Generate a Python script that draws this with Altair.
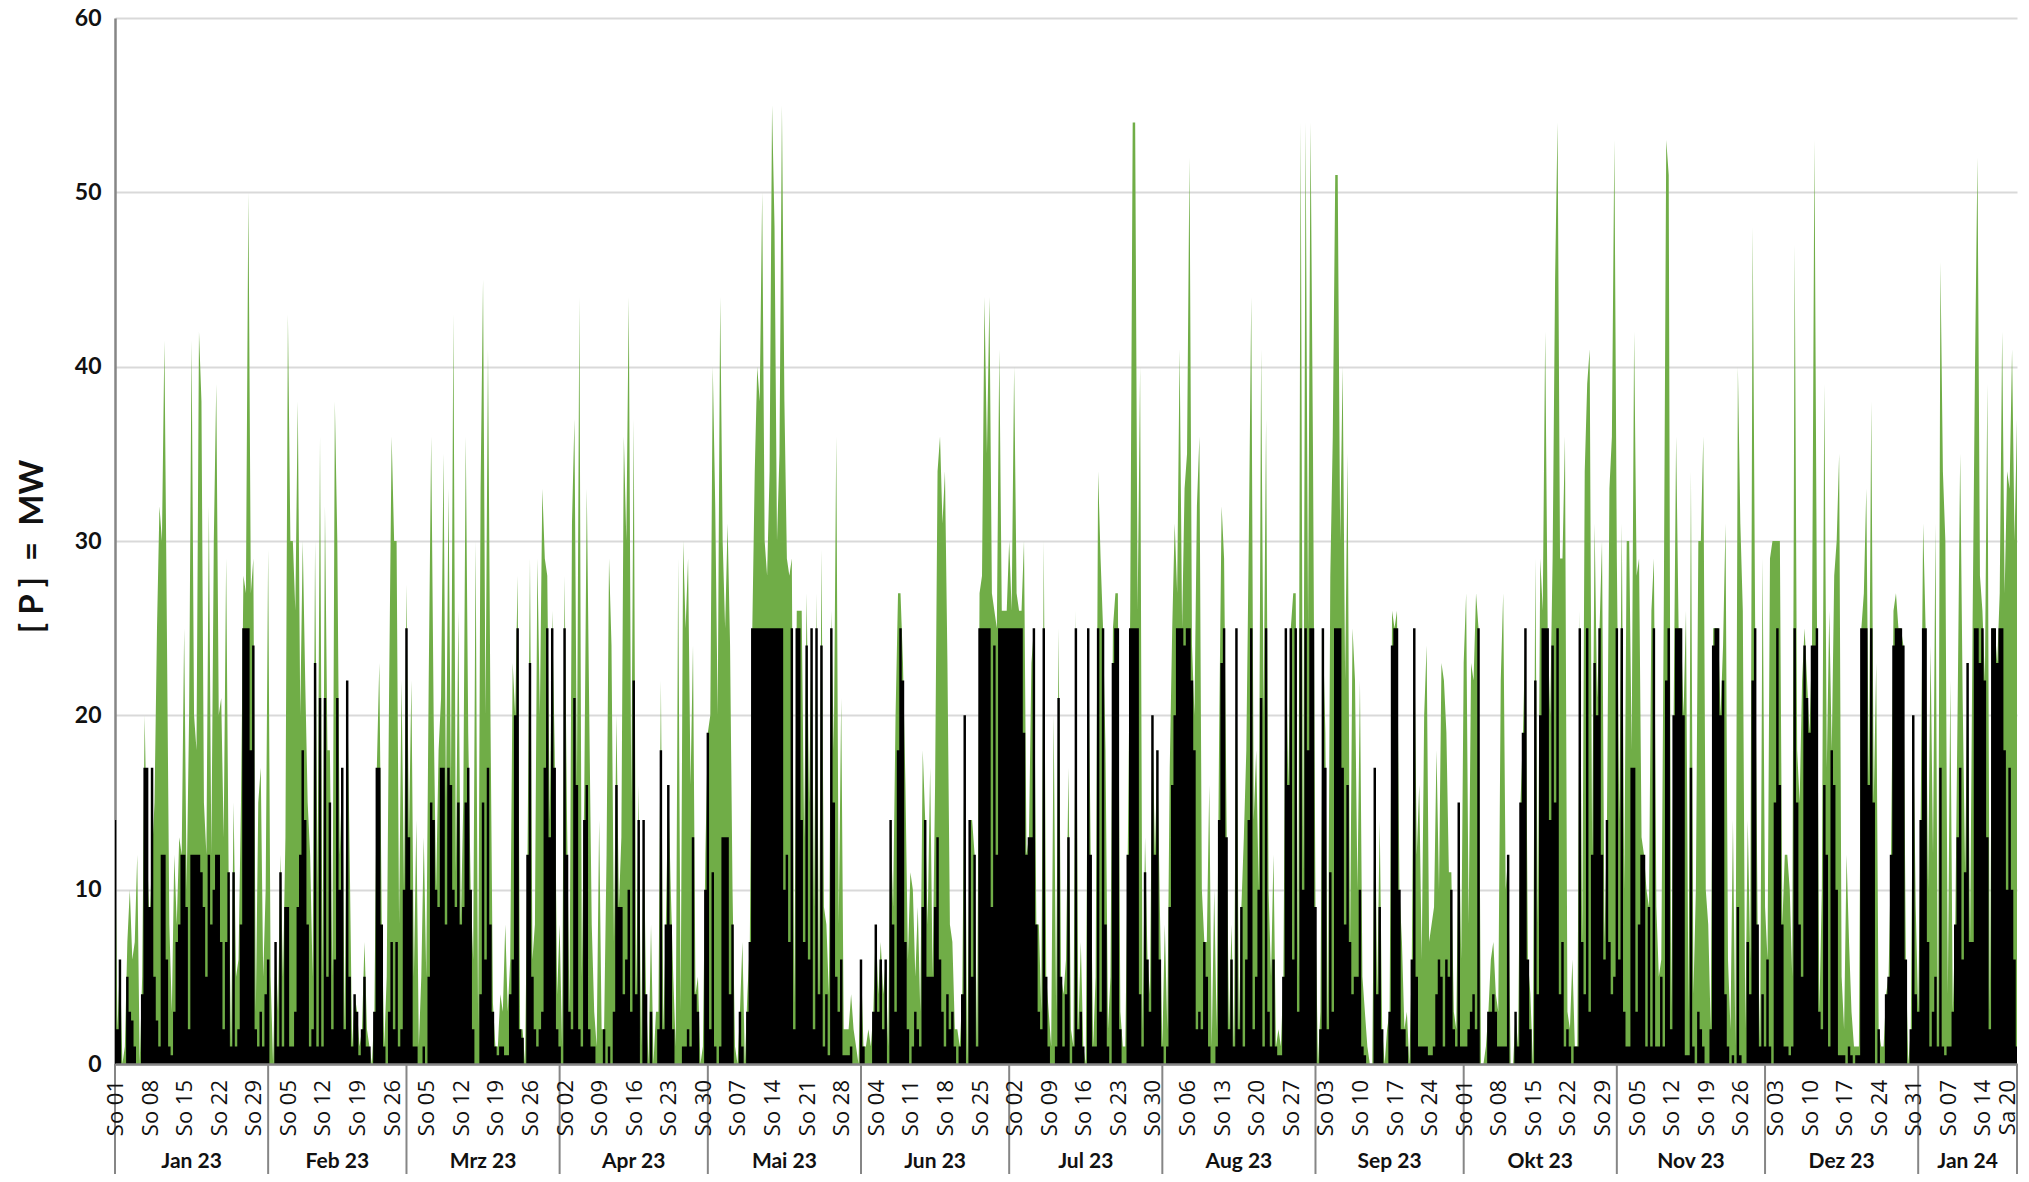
import altair as alt
import pandas as pd

# half-day samples, in six stretches along the time axis
black_a = [14,2,6,0,0,5,3,2.5,1,0, 0,4,17,17,9,17,5,2.5,1,12, 12,6,1,0.5,3,7,8,12,12,9, 2,12,12,12,12,11,9,5,12,8,
 10,12,12,7,2,7,11,1,11,1, 2,8,25,25,25,18,24,2,1,3, 1,4,6,0,0,7,1,11,1,9, 9,1,1,3,9,12,18,14,8,1,
 2,23,1,21,1,21,5,15,2,6, 21,10,17,2,22,5,1,4,3,0.5, 2,5,1,1,0,3,17,17,8,1, 0,3,7,2,7,1,2,10,25,13, 10,1,1,0,0,1,0,5,15]
green_a = [14,2,6,0,1,7,10,6,7,12, 0,5,20,12,8,12,15,25,32,30, 41.5,25,8,3,12,8,13,12,25,10, 20,41.5,20,18,42,38,15,12,32,12,
 30,39,20,21,13,29,11,1,15,5, 6,15,28,27,50,27,29,3,15,17, 5,10,29.5,5,0,7,3,12,5,13, 43,30,30,26,38,20,30,22,15,12,
 5,30,10,36,5,32,18,18,5,38, 30,12,17,2,22,12,1,4,3,1, 2,7,2,1,0,3,17,23,8,1, 5,22,36,30,30,8,22,10,27.5,13, 22,5,14,1,5,13,5,22,36]

black_b = [14,10,9,17,17,8,17,16,10,9, 15,8,9,15,17,10,2,0,0,4, 15,6,17,8,3,1,0.5,1,1,0.5, 0.5,4,6,20,25,2,1.5,0,12,23,
 5,2,1,2,3,17,25,13,25,17, 2,1,0,25,12,3,2,21,16,2, 1,14,16,2,1,1,0,0,0,2, 0,1,0,3,16,9,9,4,6,10,
 3,22,4,14,0,14,4,0,3,0, 0,2,18,2,8,16,8,2,0,0, 0,1,1,2,1,13,4,3,0,0, 10,19,2,11,1,0,1,13,13,13, 4,8,0,0,3,1,0,3]
green_b = [20,10,18,21,35,15,33,16,43,11, 26,8,15,36,19,10,6,30,2,33, 45,20,41,20,3.5,1,1,4,3,8, 3,6,23,20,28,2,2,0,12,29,
 6,8,29,20,33,29,28,14,26,18, 4,8,1,28,14,3,31,37,16,44, 5,16,33,20,8,3,1,14,2,2, 12,29,24,7,20,9,13,36,30,44,
 15,37,4,16,1,14,4,0,8,0, 3,3,22,2,8,16,10,5,1,29, 3,30,25,29,16,24,4,5,0,1, 12,19,20,40,32,20,44,30,25,31, 24,10,1,0,3,7,0,4]

black_c = [7,25,25,25,25,25,25,25,25,25, 25,25,25,25,10,12,7,25,2,25, 25,14,7,24,6,25,2,25,4,24, 1,4,0.5,25,15,5,3,6,0.5,0.5,
 0.5,1,0,0,0,6,1,0,0,0, 3,8,3,6,2,6,0,14,8,3, 18,25,22,7,2,0,1,3,2,1, 9,14,5,5,5,9,13,6,3,1,
 4,2,3,1,0,1,4,20,0,14, 5,12,1,25,25,25,25,25,9,24, 12,25,25,25,25,25,25,25,25,25, 25,19,12,13,13,25,8,3,2,25, 5,1,0,0,1,21,5,1]
green_c = [7,25,34,40,38,50,30,28,34,55, 48,30,35,55,38,29,28,29,3.5,26, 26,26,13,27,15,25,9,27,4,29.5, 9,8,4,26,18,36,8,21,2,2,
 2,4,2,1,0,6,1,1,2,1, 3,8,4,7,4,6,1,14,9,20, 27,27,23,16,6,11,10,5,9,3, 18,14,8,17,5,16,34,36,31,34,
 23,8,7,2,2,1,4,20,0,14, 14,12,1,27,28,44,35,44,27,26, 25,41,26,26,26,30,26,40,27,26, 26,30,12,13,23,25,8,8,3,30, 5,3,1,20,3,25,5,4]

black_d = [4,13,0,1,25,2,3,1,0,25, 12,1,1,25,3,25,8,1,0,23, 25,25,2,0,0,12,25,25,25,25, 4,1,11,6,3,20,12,18,6,1,
 0,1,9,16,20,25,25,25,24,25, 25,22,18,2,3,2,7,5,1,0, 0,1,14,23,25,13,2,6,1,25, 2,9,1,6,14,25,2,5,10,21,
 1,25,3,1,6,1,0.5,0.5,5,25, 16,25,6,25,3,25,10,25,18,25, 25,9,0,2,25,17,2,11,3,25, 25,25,17,8,16,7,4,5,5,10, 1,0.5,0,0,0,17,4,9,2]
green_d = [6,17,2,1,26,2,7,1,0,25, 12,1,5,34,29,25,18,2,5,25, 27,27,3,1,1,12,26,54,54,26, 40,2,13,6,4,20,12,18,9,1,
 8,2,17,25,31,27,41,25,33,35, 52,24,20,32,36,10,7,7,16,1, 10,2,19,32,29,14,2,8,1,25, 2,9,13,18,30,44,14,18,10,41,
 20,37,10,5,12,1,2,1,5,25, 16,25,27,27,5,54,11,54,25,54, 35,9,0,3,25,19,2,28,36,51, 51,30,40,22,35,7,25,22,10,22, 5,3,1,0,0,17,4,14,2]

black_e = [0,0,3,24,25,25,10,2,2,1, 0,6,25,5,1,1,1,1,0.5,0.5, 1,4,6,5,1,6,5,10,2,1, 15,1,1,1,2,3,4,2,25,0,
 0,0,3,3,4,3,1,1,1,1, 12,0,0,3,1,15,19,25,6,2, 0,22,4,20,25,25,25,14,24,15, 25,4,7,1,2,1,0,1,1,25,
 7,4,25,3,12,23,20,25,12,6, 14,7,4,5,25,6,25,3,1,1, 17,17,3,8,12,12,1,9,1,25, 1,1,5,1,22,25,2,20,25,25, 25,20,0.5,0.5,17,1,0,3]
green_e = [0,2,3,26,25,26,10,7,2,3, 0,6,25,12,16,6,20,24,7,8, 9,18,10,23,22,19,11,11,3,2, 15,6,23,27,8,23,22,27,25,0,
 0,1,3,6,7,4,3,22,27,10, 12,0,0,3,1,15,19,25,6,4, 0,29,8,29,26,42,25,20,29,45, 54,29,29,36,3,2,6,1,1,26,
 7,34,39,41,12,31,21,25,30,7, 14,33,36,53,29,14,31,10,30,30, 18,42,28,29,13,12,10,9,26,29, 9,5,6,26,53,51,3,20,36,25, 25,20,26,3,34,4,10,30]

black_f = [2,1,0,0,2,24,25,25,20,22, 4,1,0,0.5,0,9,0.5,0,0,7, 4,22,25,8,1,4,1,6,1,0, 15,25,16,8,1,1,0.5,1,25,15,
 8,5,24,21,19,24,24,25,3,2, 16,12,1,18,16,10,0.5,0.5,0.5,0, 1,0.5,0,0.5,0.5,25,25,25,16,25, 15,0,2,0,0,4,5,12,24,25,
 25,25,24,6,0,2,20,4,3,14, 25,25,7,1,3,5,1,17,1,0.5, 1,1,3,8,13,17,6,11,23,7, 7,25,25,23,25,22,13,2,25,25, 23,25,25,18,10,17,10,6,1]
green_f = [30,36,10,8,2,25,25,25,20,24, 31,6,2,14,1,40,31,26,2,14, 6,48,25,8,1,29,9,6,29,30, 30,30,30,8,12,12,10,5,47,18,
 15,22,25,22,19,24,53,26,3,10, 39,17,26,18,28,30,35,5,2,12, 7,3,1,1,1,25,27,33,16,38, 15,23,2,1,1,4,5,12,26,27,
 25,25,24,6,0,2,20,9,3,14, 31,25,10,24,12,31,1,46,34,30, 4,22,3,8,21,35,21,11,23,7, 25,40,52,28,26,22,39,3,25,25, 23,27,42,27,34,33,41,30,37]

sunday_days = list(range(0, 385, 7)) + [383]
sunday_labels = ["So 01","So 08","So 15","So 22","So 29","So 05","So 12","So 19","So 26","So 05","So 12","So 19","So 26",
 "So 02","So 09","So 16","So 23","So 30","So 07","So 14","So 21","So 28","So 04","So 11","So 18","So 25",
 "So 02","So 09","So 16","So 23","So 30","So 06","So 13","So 20","So 27","So 03","So 10","So 17","So 24",
 "So 01","So 08","So 15","So 22","So 29","So 05","So 12","So 19","So 26","So 03","So 10","So 17","So 24","So 31",
 "So 07","So 14","Sa 20"]
month_edges = [0,31,59,90,120,151,181,212,243,273,304,334,365,385]
month_labels = ["Jan 23","Feb 23","Mrz 23","Apr 23","Mai 23","Jun 23","Jul 23","Aug 23","Sep 23","Okt 23","Nov 23","Dez 23","Jan 24"]

green = green_a + green_b + green_c + green_d + green_e + green_f
black = black_a + black_b + black_c + black_d + black_e + black_f
n = min(len(green), len(black))
series = pd.DataFrame({"day": [i * 0.5 for i in range(n)], "green": green[:n], "black": black[:n]})

W, H = 1902, 1046
FONT = "Lato"
x_scale = alt.Scale(domain=[0, 385], nice=False, zero=False)
y_scale = alt.Scale(domain=[0, 60], nice=False)

x_enc = alt.X("day:Q", scale=x_scale, axis=alt.Axis(
    labels=False, ticks=False, title=None, grid=False, domainColor="#868686", domainWidth=2.5, zindex=1))
y_axis = alt.Axis(values=[0,10,20,30,40,50,60], grid=True, gridColor="#d9d9d9", gridWidth=2,
    domainColor="#868686", domainWidth=2.5, ticks=False, labelFont=FONT, labelFontWeight="bold",
    labelFontSize=23, labelColor="#111111", labelPadding=14,
    title="[ P ]\u00a0\u00a0=\u00a0\u00a0MW", titleFont=FONT, titleFontWeight="bold", titleFontSize=33,
    titleColor="#111111", titleX=-83, titleY=528, titleAlign="center", titleBaseline="middle", titleAngle=270)

green_area = alt.Chart(series).mark_area(color="#70ad47", interpolate="linear").encode(
    x=x_enc, y=alt.Y("green:Q", scale=y_scale, axis=y_axis))
black_area = alt.Chart(series).mark_area(color="#000000", interpolate="step").encode(
    x=alt.X("day:Q", scale=x_scale), y=alt.Y("black:Q", scale=y_scale))

sundays = pd.DataFrame({"day": sunday_days[:len(sunday_labels)], "label": sunday_labels})
sunday_text = alt.Chart(sundays).mark_text(angle=270, align="right", baseline="middle",
    font="Open Sans", fontSize=22, color="#111111", dy=1).encode(
    x=alt.X("day:Q", scale=x_scale), y=alt.value(H + 16), text="label:N")

edges = pd.DataFrame({"day": month_edges})
separators = alt.Chart(edges).mark_rule(color="#868686", strokeWidth=2).encode(
    x=alt.X("day:Q", scale=x_scale), y=alt.value(H), y2=alt.value(H + 110))

months = pd.DataFrame({
    "day": [(a + b) / 2 for a, b in zip(month_edges[:-1], month_edges[1:])],
    "label": month_labels})
month_text = alt.Chart(months).mark_text(font=FONT, fontWeight="bold", fontSize=21, color="#111111",
    baseline="middle").encode(x=alt.X("day:Q", scale=x_scale), y=alt.value(H + 98), text="label:N")

chart = alt.layer(green_area, black_area, separators, sunday_text, month_text).properties(
    width=W, height=H, autosize=alt.AutoSizeParams(type="none"),
    padding={"left": 107, "top": 10, "right": 4, "bottom": 110},
).configure_view(stroke=None)

chart.save("out.html", embed_options={"renderer": "svg", "actions": False})
